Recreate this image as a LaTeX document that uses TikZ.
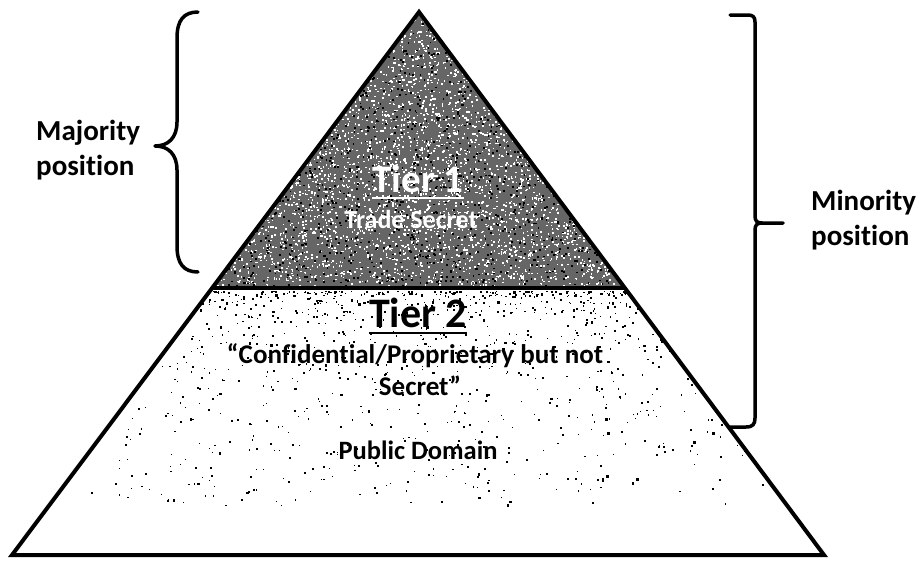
\documentclass[tikz,border=0pt]{standalone}
\usepackage{fontspec}
\setmainfont[Ligatures={NoCommon}]{Carlito}
\tikzset{
  outline/.style={draw=black, line width=4pt, line join=miter},
  bracestyle/.style={draw=black, line width=3.5pt, line cap=round, line join=round},
  lbl/.style={inner sep=0pt, anchor=base, font=\bfseries},
  sidelbl/.style={inner sep=0pt, anchor=base west, align=left, font=\bfseries\fontsize{29}{34}\selectfont},
}
\begin{document}
\begin{tikzpicture}[x=1pt,y=-1pt]
\useasboundingbox (0,0) rectangle (920,562);
\fill[white] (0,0) rectangle (920,562);
% corners of the pyramid
\coordinate (apex) at (419,12);
\coordinate (bl) at (12,555);
\coordinate (br) at (824,555);
\coordinate (ml) at (212,288);
\coordinate (mr) at (625,288);
% Tier 1 fill with noise
\fill[black!60] (apex) -- (mr) -- (ml) -- cycle;
\pgfmathsetseed{7}
\begin{scope}
\clip (apex) -- (mr) -- (ml) -- cycle;
\foreach \i in {1,...,2800}{
  \pgfmathsetmacro\yy{12+276*sqrt(rnd)}
  \pgfmathsetmacro\xx{419+(2*rnd-1)*(\yy-12)*0.75}
  \fill[white] (\xx,\yy) rectangle ++(1.6,1.6);
}
\foreach \i in {1,...,900}{
  \pgfmathsetmacro\yy{12+276*sqrt(rnd)}
  \pgfmathsetmacro\xx{419+(2*rnd-1)*(\yy-12)*0.75}
  \fill[black] (\xx,\yy) rectangle ++(1.8,1.8);
}
\end{scope}
% Tier 2 speckles
\begin{scope}
\clip (ml) -- (mr) -- (br) -- (bl) -- cycle;
\foreach \i in {1,...,1000}{
  \pgfmathsetmacro\yy{291+215*rnd^2}
  \pgfmathsetmacro\xx{419+(2*rnd-1)*(\yy-12)*0.75}
  \pgfmathsetmacro\ss{0.8+1.6*rnd}
  \fill[black] (\xx,\yy) rectangle ++(\ss,\ss);
}
\end{scope}
% outline
\draw[outline] (apex) -- (br) -- (bl) -- cycle;
\draw[outline] (ml) -- (mr);
% texts
\node[lbl, text=white, font=\bfseries\fontsize{39}{44}\selectfont] (t1) at (418,192) {Tier 1};
\draw[white, line width=2.6pt] ([yshift=-6pt]t1.base west) -- ([yshift=-6pt]t1.base east);
\node[lbl, text=white, font=\bfseries\fontsize{26}{30}\selectfont] (ts) at (411,228) {Trade Secret};
\node[lbl, font=\bfseries\fontsize{42}{48}\selectfont] (t2) at (418,327) {Tier 2};
\draw[black, line width=2.8pt] ([yshift=-6pt]t2.base west) -- ([yshift=-6pt]t2.base east);
\node[lbl, font=\bfseries\fontsize{27}{30}\selectfont] (c1) at (415,363) {“Confidential/Proprietary but not};
\node[lbl, font=\bfseries\fontsize{27}{30}\selectfont] (c2) at (420,395) {Secret”};
\node[lbl, font=\bfseries\fontsize{26.5}{30}\selectfont] (pd) at (418,459) {Public Domain};
\node[sidelbl] (maj) at (36,140) {Majority};
\node[sidelbl] (majb) at (36,175) {position};
\node[sidelbl] (min) at (811,210) {Minority};
\node[sidelbl] (minb) at (811,245) {position};
% left brace
\draw[bracestyle] (198,12) .. controls (184,12) and (177,20) .. (177,38)
  -- (177,122) .. controls (177,138) and (168,146) .. (155,146)
  .. controls (168,146) and (177,154) .. (177,170)
  -- (177,246) .. controls (177,264) and (184,272) .. (198,272);
% right bracket
\draw[bracestyle] (730,15) -- (748,15) .. controls (753,15) and (755,17) .. (755,22)
  -- (755,216) .. controls (755,221) and (757,223) .. (762,223) -- (783,223);
\draw[bracestyle] (762,223) .. controls (757,223) and (755,225) .. (755,230)
  -- (755,418) .. controls (755,424) and (753,427) .. (746,427) -- (730,427);
\end{tikzpicture}
\end{document}
